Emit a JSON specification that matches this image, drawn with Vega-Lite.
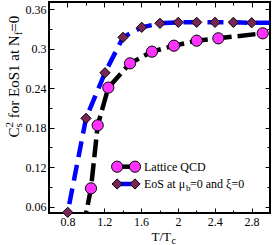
{
  "$schema": "https://vega.github.io/schema/vega-lite/v6.json",
  "width": 221,
  "height": 211,
  "autosize": {"type": "none"},
  "padding": {"left": 49, "top": 2, "right": 3, "bottom": 32},
  "background": "white",
  "config": {
    "view": {"stroke": "black", "strokeWidth": 2},
    "axis": {
      "domain": false,
      "grid": false,
      "tickColor": "black",
      "tickWidth": 1,
      "labelFont": "Liberation Serif",
      "labelFontSize": 12,
      "labelColor": "black",
      "titleFont": "Liberation Serif",
      "titleColor": "black",
      "titleFontWeight": "normal",
      "titleAlign": "left",
      "titleBaseline": "alphabetic"
    },
    "axisY": {"titleAngle": 270}
  },
  "datasets": {
    "main": [
      {"series": "Lattice QCD", "T": 0.97, "c": 0.027},
      {"series": "Lattice QCD", "T": 1.056, "c": 0.0879},
      {"series": "Lattice QCD", "T": 1.129, "c": 0.1837},
      {"series": "Lattice QCD", "T": 1.244, "c": 0.241},
      {"series": "Lattice QCD", "T": 1.48, "c": 0.2779},
      {"series": "Lattice QCD", "T": 1.718, "c": 0.2956},
      {"series": "Lattice QCD", "T": 1.957, "c": 0.3047},
      {"series": "Lattice QCD", "T": 2.204, "c": 0.3123},
      {"series": "Lattice QCD", "T": 2.439, "c": 0.3159},
      {"series": "Lattice QCD", "T": 2.921, "c": 0.3235},
      {"series": "EoS", "T": 0.77, "c": 0.028},
      {"series": "EoS", "T": 0.803, "c": 0.0514},
      {"series": "EoS", "T": 1.002, "c": 0.1943},
      {"series": "EoS", "T": 1.208, "c": 0.2636},
      {"series": "EoS", "T": 1.404, "c": 0.3174},
      {"series": "EoS", "T": 1.607, "c": 0.3326},
      {"series": "EoS", "T": 1.805, "c": 0.3387},
      {"series": "EoS", "T": 2.004, "c": 0.3402},
      {"series": "EoS", "T": 2.204, "c": 0.3402},
      {"series": "EoS", "T": 2.403, "c": 0.3402},
      {"series": "EoS", "T": 2.602, "c": 0.3402},
      {"series": "EoS", "T": 2.801, "c": 0.3396},
      {"series": "EoS", "T": 3.0, "c": 0.3396}
    ],
    "legend": [
      {"series": "Lattice QCD", "T": 1.34, "c": 0.1208},
      {"series": "Lattice QCD", "T": 1.534, "c": 0.1208},
      {"series": "EoS", "T": 1.34, "c": 0.0945},
      {"series": "EoS", "T": 1.534, "c": 0.0945}
    ],
    "legendText": [
      {"label": "Lattice QCD", "T": 1.632, "c": 0.1208},
      {"label": "EoS at μ", "T": 1.632, "c": 0.0945}
    ],
    "legendSub": [
      {"label": "b", "T": 1.632, "c": 0.0945}
    ],
    "legendRest": [
      {"label": "=0 and ξ=0", "T": 1.632, "c": 0.0945}
    ]
  },
  "resolve": {"axis": {"x": "independent", "y": "independent"}},
  "layer": [
    {
      "data": {"name": "main"},
      "mark": {"type": "line", "clip": true, "strokeWidth": 4.5, "strokeCap": "butt"},
      "encoding": {
        "x": {
          "field": "T", "type": "quantitative",
          "scale": {"domain": [0.6, 3.0], "nice": false, "zero": false},
          "axis": {
            "orient": "bottom",
            "values": [0.8, 1.2, 1.6, 2, 2.4, 2.8],
            "format": "~g",
            "tickSize": -5,
            "labelPadding": 8,
            "labelBaseline": "top",
            "title": "T/T",
            "titleFontSize": 13,
            "titleX": 102,
            "titleY": 27
          }
        },
        "y": {
          "field": "c", "type": "quantitative",
          "scale": {"domain": [0.0504, 0.3711], "nice": false, "zero": false},
          "axis": {
            "orient": "left",
            "values": [0.06, 0.12, 0.18, 0.24, 0.3, 0.36],
            "format": "~g",
            "tickSize": -5,
            "labelPadding": 8,
            "title": "C",
            "titleFontSize": 15,
            "titleX": -31,
            "titleY": 135
          }
        },
        "stroke": {
          "field": "series", "type": "nominal",
          "scale": {"domain": ["Lattice QCD", "EoS"], "range": ["#000000", "#0000ff"]},
          "legend": null
        },
        "strokeDash": {
          "field": "series", "type": "nominal",
          "scale": {"domain": ["Lattice QCD", "EoS"], "range": [[18, 6], [16, 8]]},
          "legend": null
        }
      }
    },
    {
      "data": {"name": "main"},
      "transform": [{"filter": "datum.c >= 0.045 && datum.T <= 2.95"}],
      "mark": {"type": "point", "filled": true, "stroke": "black", "strokeWidth": 1, "opacity": 1},
      "encoding": {
        "x": {
          "field": "T", "type": "quantitative",
          "scale": {"domain": [0.6, 3.0], "nice": false, "zero": false},
          "axis": {"orient": "top", "values": [0.8, 1.2, 1.6, 2, 2.4, 2.8], "tickSize": -5, "labels": false, "title": null}
        },
        "y": {
          "field": "c", "type": "quantitative",
          "scale": {"domain": [0.0504, 0.3711], "nice": false, "zero": false},
          "axis": {"orient": "right", "values": [0.06, 0.12, 0.18, 0.24, 0.3, 0.36], "tickSize": -5, "labels": false,
                   "title": "2", "titleFontSize": 11, "titleX": -258, "titleY": 125}
        },
        "shape": {
          "field": "series", "type": "nominal",
          "scale": {"domain": ["Lattice QCD", "EoS"], "range": ["circle", "diamond"]},
          "legend": null
        },
        "fill": {
          "field": "series", "type": "nominal",
          "scale": {"domain": ["Lattice QCD", "EoS"], "range": ["#ff33ff", "#7b2557"]},
          "legend": null
        },
        "size": {
          "field": "series", "type": "nominal",
          "scale": {"domain": ["Lattice QCD", "EoS"], "range": [125, 105]},
          "legend": null
        }
      }
    },
    {
      "data": {"name": "legend"},
      "mark": {"type": "line", "strokeWidth": 4.5, "strokeCap": "butt"},
      "encoding": {
        "x": {
          "field": "T", "type": "quantitative",
          "scale": {"domain": [0.6, 3.0], "nice": false, "zero": false},
          "axis": {"orient": "bottom", "values": [1.0, 1.4, 1.8, 2.2, 2.6], "tickSize": -3, "labels": false,
                   "title": "c", "titleFontSize": 10, "titleX": 122, "titleY": 30}
        },
        "y": {
          "field": "c", "type": "quantitative",
          "scale": {"domain": [0.0504, 0.3711], "nice": false, "zero": false},
          "axis": {"orient": "left", "values": [0.09, 0.15, 0.21, 0.27, 0.33], "tickSize": -3, "labels": false,
                   "title": "s", "titleFontSize": 11, "titleX": -28, "titleY": 125}
        },
        "stroke": {"field": "series", "type": "nominal", "legend": null}
      }
    },
    {
      "data": {"name": "legend"},
      "mark": {"type": "point", "filled": true, "stroke": "black", "strokeWidth": 1, "opacity": 1},
      "encoding": {
        "x": {
          "field": "T", "type": "quantitative",
          "scale": {"domain": [0.6, 3.0], "nice": false, "zero": false},
          "axis": {"orient": "top", "values": [1.0, 1.4, 1.8, 2.2, 2.6], "tickSize": -3, "labels": false, "title": null}
        },
        "y": {
          "field": "c", "type": "quantitative",
          "scale": {"domain": [0.0504, 0.3711], "nice": false, "zero": false},
          "axis": {"orient": "right", "values": [0.09, 0.15, 0.21, 0.27, 0.33], "tickSize": -3, "labels": false,
                   "title": "for EoS1 at N", "titleFontSize": 15, "titleX": -252, "titleY": 115.75}
        },
        "shape": {"field": "series", "type": "nominal", "legend": null},
        "fill": {"field": "series", "type": "nominal", "legend": null},
        "size": {"field": "series", "type": "nominal", "legend": null}
      }
    },
    {
      "data": {"name": "legendText"},
      "mark": {"type": "text", "align": "left", "baseline": "middle", "font": "Liberation Serif", "fontSize": 12, "color": "black"},
      "encoding": {
        "x": {"field": "T", "type": "quantitative", "axis": null},
        "y": {"field": "c", "type": "quantitative",
              "axis": {"orient": "left", "ticks": false, "labels": false, "domain": false,
                       "title": "f", "titleFontSize": 11, "titleX": -28, "titleY": 32.85}},
        "text": {"field": "label"}
      }
    },
    {
      "data": {"name": "legendSub"},
      "mark": {"type": "text", "align": "left", "baseline": "middle", "font": "Liberation Serif", "fontSize": 9, "color": "black", "dx": 42, "dy": 4},
      "encoding": {
        "x": {"field": "T", "type": "quantitative", "axis": null},
        "y": {"field": "c", "type": "quantitative",
              "axis": {"orient": "left", "ticks": false, "labels": false, "domain": false,
                       "title": "=0", "titleFontSize": 15, "titleX": -31, "titleY": 29.2}},
        "text": {"field": "label"}
      }
    },
    {
      "data": {"name": "legendRest"},
      "mark": {"type": "text", "align": "left", "baseline": "middle", "font": "Liberation Serif", "fontSize": 12, "color": "black", "dx": 46},
      "encoding": {
        "x": {"field": "T", "type": "quantitative", "axis": null},
        "y": {"field": "c", "type": "quantitative", "axis": null},
        "text": {"field": "label"}
      }
    }
  ]
}
